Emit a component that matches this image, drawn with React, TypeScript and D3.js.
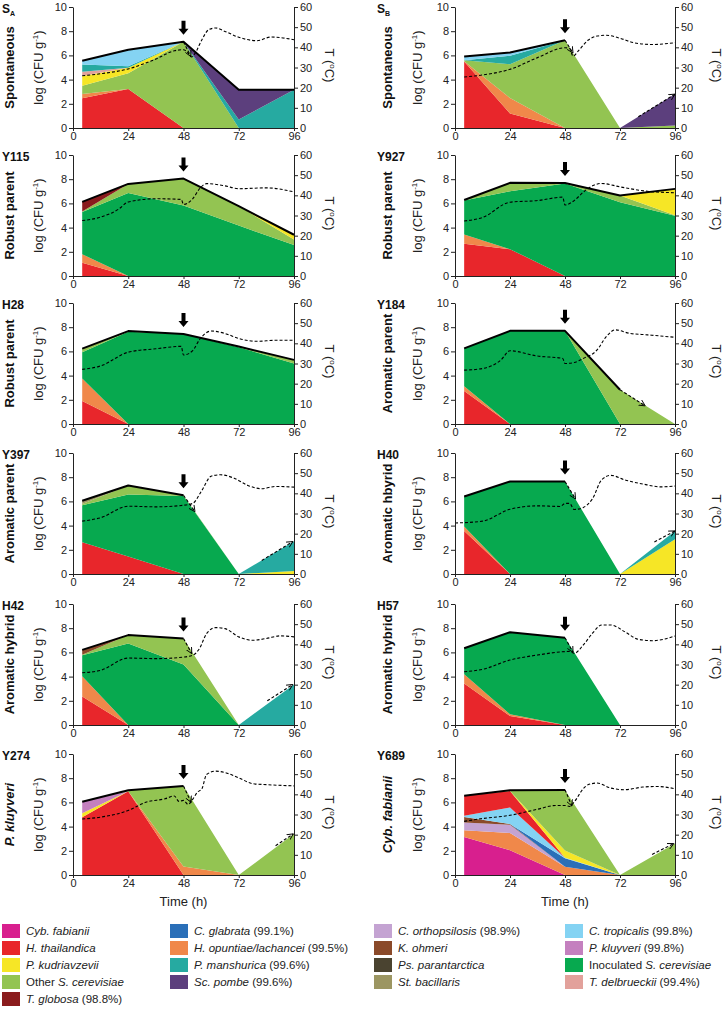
import React, { useEffect, useRef } from 'react';
import * as d3 from 'd3';

// ---------- shared data ----------
const hours = [4, 24, 48, 72, 96];
const xTicks = [0, 24, 48, 72, 96];
const logTicks = [0, 2, 4, 6, 8, 10];
const tempTicks = [0, 10, 20, 30, 40, 50, 60];

const speciesKeys = ['cyb', 'cgla', 'cort', 'ctro', 'htha', 'hopu', 'kohm', 'pklu', 'pkud', 'pman', 'pspa', 'inoc', 'other', 'scpo', 'stba', 'tdel', 'tglo'];
const speciesColors = ['#d81f8e', '#2a6fb8', '#c4a3d2', '#84d3f3', '#e8262b', '#f0884a', '#8a4a2a', '#c480bf', '#f6e626', '#26aaa1', '#4a4330', '#07a94f', '#93c452', '#5c3f7d', '#9c9662', '#e2a19b', '#8a1b1d'];
const legendPrefix = ['', '', '', '', '', '', '', '', '', '', '', 'Inoculated ', 'Other ', '', '', '', ''];
const legendItalic = ['Cyb. fabianii', 'C. glabrata', 'C. orthopsilosis', 'C. tropicalis', 'H. thailandica', 'H. opuntiae/lachancei', 'K. ohmeri', 'P. kluyveri', 'P. kudriavzevii', 'P. manshurica', 'Ps. parantarctica', 'S. cerevisiae', 'S. cerevisiae', 'Sc. pombe', 'St. bacillaris', 'T. delbrueckii', 'T. globosa'];
const legendSuffix = ['', ' (99.1%)', ' (98.9%)', ' (99.8%)', '', ' (99.5%)', '', ' (99.8%)', '', ' (99.6%)', '', '', '', ' (99.6%)', '', ' (99.4%)', ' (98.8%)'];
const legendOrder = ['cyb', 'cgla', 'cort', 'ctro', 'htha', 'hopu', 'kohm', 'pklu', 'pkud', 'pman', 'pspa', 'inoc', 'other', 'scpo', 'stba', 'tdel', 'tglo'];

// ---------- panel data (log CFU/g at 4, 24, 48, 72, 96 h; bottom -> top) ----------
const SA_counts: [string, number[]][] = [
  ['htha', [2.45, 3.22, 0, 0, 0]],
  ['hopu', [0.35, 0, 0, 0, 0]],
  ['other', [0.7, 1.3, 7.13, 0, 0]],
  ['pkud', [0.8, 0.46, 0, 0, 0]],
  ['tdel', [0.35, 0, 0, 0, 0]],
  ['pman', [0.6, 0.12, 0, 0.7, 3.17]],
  ['scpo', [0, 0, 0, 2.47, 0]],
  ['ctro', [0.3, 1.37, 0, 0, 0]],
];
const SB_counts: [string, number[]][] = [
  ['htha', [5.5, 1.2, 0, 0, 0]],
  ['hopu', [0.02, 1.27, 0, 0, 0]],
  ['other', [0.08, 2.8, 7.25, 0, 0.2]],
  ['pman', [0, 0.7, 0, 0, 0]],
  ['scpo', [0, 0, 0, 0, 2.6]],
  ['ctro', [0.3, 0.27, 0, 0, 0]],
];
const Y115_counts: [string, number[]][] = [
  ['htha', [1.1, 0, 0, 0, 0]],
  ['hopu', [0.7, 0, 0, 0, 0]],
  ['inoc', [3.48, 6.86, 5.83, 4.17, 2.56]],
  ['other', [0.05, 0.75, 2.22, 1.6, 0.45]],
  ['pkud', [0, 0, 0, 0, 0.4]],
  ['tglo', [0.8, 0, 0, 0, 0]],
];
const Y927_counts: [string, number[]][] = [
  ['htha', [2.67, 2.22, 0, 0, 0]],
  ['hopu', [0.76, 0, 0, 0, 0]],
  ['inoc', [2.8, 4.78, 7.64, 6.1, 4.97]],
  ['other', [0.05, 0.7, 0.05, 0.55, 0.05]],
  ['pkud', [0, 0, 0, 0, 2.18]],
];
const H28_counts: [string, number[]][] = [
  ['htha', [1.9, 0, 0, 0, 0]],
  ['hopu', [1.86, 0, 0, 0, 0]],
  ['inoc', [2.17, 7.63, 7.43, 6.35, 5.0]],
  ['other', [0.3, 0.05, 0, 0.05, 0.3]],
];
const Y184_counts: [string, number[]][] = [
  ['htha', [2.72, 0, 0, 0, 0]],
  ['hopu', [0.4, 0, 0, 0, 0]],
  ['inoc', [3.13, 7.7, 7.7, 0, 0]],
  ['other', [0, 0, 0, 2.83, 0]],
];
const Y397_counts: [string, number[]][] = [
  ['htha', [2.62, 1.45, 0, 0, 0]],
  ['pkud', [0, 0, 0, 0, 0.25]],
  ['inoc', [3.06, 5.13, 6.45, 0, 0]],
  ['pman', [0, 0, 0, 0, 2.45]],
  ['other', [0.1, 0.74, 0.05, 0, 0]],
  ['stba', [0.27, 0, 0, 0, 0]],
];
const H40_counts: [string, number[]][] = [
  ['htha', [3.56, 0, 0, 0, 0]],
  ['hopu', [0.37, 0, 0, 0, 0]],
  ['inoc', [2.48, 7.64, 7.64, 0, 0]],
  ['pkud', [0, 0, 0, 0, 2.88]],
  ['pman', [0, 0, 0, 0, 0.68]],
];
const H42_counts: [string, number[]][] = [
  ['htha', [2.35, 0, 0, 0, 0]],
  ['hopu', [1.67, 0, 0, 0, 0]],
  ['inoc', [1.74, 6.73, 5.0, 0, 0]],
  ['other', [0.05, 0.7, 2.15, 0, 0]],
  ['kohm', [0.4, 0, 0, 0, 0]],
  ['pman', [0, 0, 0, 0, 3.35]],
];
const H57_counts: [string, number[]][] = [
  ['htha', [3.44, 0.74, 0, 0, 0]],
  ['hopu', [0.75, 0.15, 0, 0, 0]],
  ['inoc', [2.15, 6.77, 7.22, 0, 0]],
];
const Y274_counts: [string, number[]][] = [
  ['htha', [4.78, 6.92, 0, 0, 0]],
  ['hopu', [0, 0, 0.7, 0, 0]],
  ['pkud', [0.32, 0, 0, 0, 0]],
  ['pklu', [0.95, 0, 0, 0, 0]],
  ['other', [0, 0.08, 6.65, 0, 3.4]],
];
const Y689_counts: [string, number[]][] = [
  ['cyb', [3.15, 2.05, 0, 0, 0]],
  ['hopu', [0.55, 1.43, 0.68, 0, 0]],
  ['cort', [0.63, 0.68, 0, 0, 0]],
  ['kohm', [0.47, 0.05, 0, 0, 0]],
  ['cgla', [0, 0, 0.7, 0, 0]],
  ['ctro', [0.1, 1.37, 0.05, 0, 0]],
  ['htha', [1.65, 1.37, 0, 0, 0]],
  ['pkud', [0, 0, 0.6, 0, 0]],
  ['other', [0, 0.05, 5.0, 0, 2.6]],
];

// temperature curves [hour, °C]
const SA_temp = [[4, 25.9], [12, 26.9], [24, 29.3], [36, 34.2], [44, 38.3], [48, 38.8], [50, 37.2], [51.5, 35.2], [53, 37], [56, 43.8], [59, 48.8], [62, 49.6], [66, 47.9], [72, 45], [80, 43.3], [86, 45.1], [96, 43.8]];
const SB_temp = [[4, 25.3], [12, 26.3], [24, 29.1], [36, 34.9], [48, 39.8], [50, 39.5], [51.5, 35.7], [54, 38.5], [58, 43.5], [62, 45.6], [66, 46], [72, 44.5], [78, 42.3], [86, 41.4], [96, 42.3]];
const Y115_temp = [[4, 27.5], [12, 29.2], [20, 33.3], [24, 36.7], [36, 38.3], [47, 38], [48, 35.5], [52, 38.3], [55, 43.3], [58, 45.8], [66, 44.7], [72, 43.3], [84, 43.7], [96, 41.7]];
const Y927_temp = [[4, 27.3], [12, 29], [24, 36.6], [36, 37.4], [47, 39.1], [48, 35.2], [52, 37.4], [56, 41.6], [60, 44.7], [64, 45.9], [72, 44.2], [84, 42], [96, 41.3]];
const H28_temp = [[4, 27.1], [12, 28.8], [24, 35.6], [36, 37.3], [47, 38.5], [48, 34.2], [52, 36.4], [55, 41.9], [60, 46.1], [66, 44.9], [72, 42.4], [80, 41], [88, 41.5], [96, 41.5]];
const Y184_temp = [[4, 26.7], [12, 27.5], [20, 31.7], [24, 36.3], [36, 33.7], [47, 32.5], [48, 30], [52, 30.5], [56, 32.5], [62, 36.7], [66, 43.3], [70, 46.7], [76, 45], [84, 44.2], [96, 43]];
const Y397_temp = [[4, 26.2], [12, 27.9], [24, 33.6], [36, 33.3], [48, 34.1], [52, 35], [56, 41.5], [60, 48.5], [64, 49.2], [70, 47.5], [76, 43.9], [82, 42.3], [88, 43.4], [96, 43.1]];
const H40_temp = [[0, 25.3], [12, 26.2], [24, 32.1], [36, 33.8], [46, 33.5], [48, 35], [50, 35], [52, 32], [56, 33], [60, 37.3], [64, 46.7], [68, 48.9], [74, 46.7], [82, 44.6], [90, 43.2], [96, 43.6]];
const H42_temp = [[4, 25.9], [12, 27.1], [24, 33.2], [36, 32.9], [48, 33.7], [52, 34.6], [55, 38], [58, 45.3], [62, 48.3], [66, 47.8], [72, 43.7], [78, 42], [84, 42.9], [90, 44.2], [96, 43.7]];
const H57_temp = [[4, 26.4], [12, 27.6], [24, 32.2], [36, 34.7], [48, 36.4], [50, 36.5], [52, 35.5], [56, 39.7], [60, 45.5], [64, 49.6], [68, 49.6], [74, 46.3], [80, 42.5], [86, 41.8], [96, 44.1]];
const Y274_temp = [[4, 27.8], [12, 28.7], [24, 32], [32, 36.2], [40, 37.8], [44, 39.2], [46, 36.5], [48, 37], [50, 35], [52, 37.5], [54, 41], [56, 42.8], [58, 49.8], [62, 51.5], [66, 50.8], [72, 48.2], [78, 45.3], [84, 44.8], [96, 44.2]];
const Y689_temp = [[4, 26.6], [12, 28], [24, 29.6], [36, 32.6], [44, 34.5], [48, 34.5], [50, 34], [52, 36.2], [56, 42.8], [58, 44.7], [62, 45.6], [68, 43.1], [74, 42.3], [82, 43.6], [88, 43.9], [96, 42.8]];

// dashed trend arrows [h1, log1, h2, log2]
const SA_arrows = [[48, 7.13, 51.2, 5.9]];
const SB_arrows = [[48, 7.25, 51.5, 6.2], [80, 0.93, 96, 2.8]];
const Y184_arrows = [[72, 2.83, 83, 1.5]];
const Y397_arrows = [[48, 6.5, 53, 5.15], [82, 1.12, 95.5, 2.68]];
const H40_arrows = [[48, 7.64, 52.6, 6.2], [87, 2.65, 96, 3.56]];
const H42_arrows = [[48, 7.15, 51.6, 5.9], [84.4, 2.0, 95.5, 3.35]];
const H57_arrows = [[48, 7.22, 51.5, 6.0]];
const Y274_arrows = [[48, 7.35, 51.3, 6.0], [88, 2.42, 95.7, 3.4]];
const Y689_arrows = [[48, 7.05, 51, 5.7], [86, 1.7, 95.5, 2.6]];

const panelNames = ['S', 'S', 'Y115', 'Y927', 'H28', 'Y184', 'Y397', 'H40', 'H42', 'H57', 'Y274', 'Y689'];
const panelSubs = ['A', 'B', '', '', '', '', '', '', '', '', '', ''];
const rowLabels = ['Spontaneous', 'Spontaneous', 'Robust parent', 'Robust parent', 'Robust parent', 'Aromatic parent', 'Aromatic parent', 'Aromatic hbyrid', 'Aromatic hybrid', 'Aromatic hybrid', 'P. kluyveri', 'Cyb. fabianii'];
const rowItalic = [false, false, false, false, false, false, false, false, false, false, true, true];
const solidEnds = [96, 48, 96, 96, 96, 72, 48, 48, 48, 48, 48, 48];
const panelCounts = [SA_counts, SB_counts, Y115_counts, Y927_counts, H28_counts, Y184_counts, Y397_counts, H40_counts, H42_counts, H57_counts, Y274_counts, Y689_counts];
const panelTemps = [SA_temp, SB_temp, Y115_temp, Y927_temp, H28_temp, Y184_temp, Y397_temp, H40_temp, H42_temp, H57_temp, Y274_temp, Y689_temp];
const panelArrows = [SA_arrows, SB_arrows, [], [], [], Y184_arrows, Y397_arrows, H40_arrows, H42_arrows, H57_arrows, Y274_arrows, Y689_arrows];

const FONT = '"Liberation Sans", Arial, sans-serif';
const rowTops = [7, 155, 303, 453, 604, 754];
const PH = 121;

function colorOf(k: string) {
  return speciesColors[speciesKeys.indexOf(k)];
}

export default function App() {
  const ref = useRef<SVGSVGElement>(null);
  useEffect(() => {
    const svg = d3.select(ref.current);
    svg.selectAll('*').remove();
    const defs = svg.append('defs');
    defs.append('marker').attr('id', 'ah').attr('viewBox', '0 0 8 8').attr('refX', 7).attr('refY', 4)
      .attr('markerWidth', 7).attr('markerHeight', 7).attr('markerUnits', 'userSpaceOnUse').attr('orient', 'auto')
      .append('path').attr('d', 'M0,0.5 L7,4 L0,7.5').attr('fill', 'none').attr('stroke', '#000').attr('stroke-width', 1);

    panelNames.forEach((name, i) => {
      const col = i % 2;
      const row = Math.floor(i / 2);
      const xa = col ? 455 : 73;
      const xb = col ? 675 : 294;
      const yTop = rowTops[row];
      const yBot = yTop + PH;
      const x = d3.scaleLinear().domain([0, 96]).range([xa, xb]);
      const y = d3.scaleLinear().domain([0, 10]).range([yBot, yTop]);
      const yT = d3.scaleLinear().domain([0, 60]).range([yBot, yTop]);
      const g = svg.append('g');

      const layers = panelCounts[i];
      const keys = layers.map((l) => l[0]);
      const table = hours.map((h, j) => {
        const o: any = { h };
        layers.forEach(([k, v]) => (o[k] = v[j]));
        return o;
      });
      const series = d3.stack<any>().keys(keys)(table);
      const area = d3.area<any>().x((d) => x(d.data.h)).y0((d) => y(d[0])).y1((d) => y(d[1]));
      g.selectAll('path.layer').data(series).join('path').attr('class', 'layer')
        .attr('d', area as any).attr('fill', (s: any) => colorOf(s.key));

      const totals = table.map((d) => ({ h: d.h, v: keys.reduce((a, k) => a + d[k], 0) }));
      const line = d3.line<any>().x((d) => x(d.h)).y((d) => y(d.v));
      g.append('path').attr('d', line(totals.filter((d) => d.h <= solidEnds[i])) as string)
        .attr('fill', 'none').attr('stroke', '#000').attr('stroke-width', 2).attr('stroke-linejoin', 'round');

      // temperature
      const tline = d3.line<any>().x((d) => x(d[0])).y((d) => yT(d[1])).curve(d3.curveMonotoneX);
      g.append('path').attr('d', tline(panelTemps[i]) as string).attr('fill', 'none')
        .attr('stroke', '#000').attr('stroke-width', 1.1).attr('stroke-dasharray', '3,2');

      // dashed trend arrows
      (panelArrows[i] as number[][]).forEach((a) => {
        g.append('line').attr('x1', x(a[0])).attr('y1', y(a[1])).attr('x2', x(a[2])).attr('y2', y(a[3]))
          .attr('stroke', '#000').attr('stroke-width', 1.1).attr('stroke-dasharray', '3,2').attr('marker-end', 'url(#ah)');
      });

      // bold arrow at 48 h
      const t48 = totals[2].v;
      const tipY = y(t48) - 7;
      const ax = x(48);
      const p = d3.path();
      p.moveTo(ax - 2, tipY - 14);
      p.lineTo(ax + 2, tipY - 14);
      p.lineTo(ax + 2, tipY - 6);
      p.lineTo(ax + 5, tipY - 6);
      p.lineTo(ax, tipY);
      p.lineTo(ax - 5, tipY - 6);
      p.lineTo(ax - 2, tipY - 6);
      p.closePath();
      g.append('path').attr('d', p.toString()).attr('fill', '#000');

      // axes
      const styleAxis = (sel: any) => {
        sel.selectAll('text').attr('font-family', FONT).attr('font-size', 11).attr('fill', '#222');
        sel.selectAll('line').attr('stroke', '#222');
        sel.select('.domain').attr('stroke', '#222');
      };
      g.append('g').attr('transform', `translate(${xa},0)`)
        .call(d3.axisLeft(y).tickValues(logTicks).tickSize(4).tickSizeOuter(0).tickPadding(2)).call(styleAxis);
      g.append('g').attr('transform', `translate(${xb},0)`)
        .call(d3.axisRight(yT).tickValues(tempTicks).tickSize(4).tickSizeOuter(0).tickPadding(2)).call(styleAxis);
      g.append('g').attr('transform', `translate(0,${yBot})`)
        .call(d3.axisBottom(x).tickValues(xTicks).tickSize(3).tickSizeOuter(0).tickPadding(1)).call(styleAxis);
      g.selectAll('.domain').attr('fill', 'none');

      // titles
      const tt = g.append('text').attr('x', col ? 377 : 2).attr('y', yTop + 6).attr('font-family', FONT)
        .attr('font-weight', 'bold').attr('font-size', 12).attr('fill', '#111');
      tt.append('tspan').text(name);
      if (panelSubs[i]) tt.append('tspan').attr('font-size', 7).attr('dy', 3).text(panelSubs[i]);

      const cy = (yTop + yBot) / 2;
      const rx = col ? 387 : 9;
      g.append('text').attr('transform', `translate(${rx},${cy}) rotate(-90)`).attr('text-anchor', 'middle')
        .attr('dy', '0.35em').attr('font-family', FONT).attr('font-weight', 'bold').attr('font-size', 13)
        .attr('font-style', rowItalic[i] ? 'italic' : 'normal').attr('fill', '#111').text(rowLabels[i]);

      const lx = col ? 417 : 38.5;
      const lt = g.append('text').attr('transform', `translate(${lx},${cy}) rotate(-90)`).attr('text-anchor', 'middle')
        .attr('dy', '0.35em').attr('font-family', FONT).attr('font-size', 13).attr('fill', '#222');
      lt.append('tspan').text('log (CFU g');
      lt.append('tspan').attr('font-size', 8).attr('dy', -5).text('-1');
      lt.append('tspan').attr('dy', 5).text(')');

      const tx = col ? 717 : 330;
      const tq = g.append('text').attr('transform', `translate(${tx},${cy - 2}) rotate(90)`).attr('text-anchor', 'middle')
        .attr('dy', '0.35em').attr('font-family', FONT).attr('font-size', 13).attr('fill', '#222');
      tq.append('tspan').text('T (');
      tq.append('tspan').attr('font-size', 8).attr('dy', -5).text('o');
      tq.append('tspan').attr('dy', 5).text('C)');

      if (row === 5) {
        g.append('text').attr('x', (xa + xb) / 2).attr('y', yBot + 31).attr('text-anchor', 'middle')
          .attr('font-family', FONT).attr('font-size', 13).attr('fill', '#222').text('Time (h)');
      }
    });

    // legend
    const colX = [2, 170, 374, 565];
    const rowY = [931, 948, 965, 982, 999];
    legendOrder.forEach((k, j) => {
      const c = j % 4;
      const r = Math.floor(j / 4);
      const idx = speciesKeys.indexOf(k);
      svg.append('rect').attr('x', colX[c]).attr('y', rowY[r] - 7).attr('width', 18).attr('height', 14).attr('fill', speciesColors[idx]);
      const t = svg.append('text').attr('x', colX[c] + 24).attr('y', rowY[r] + 4).attr('font-family', FONT)
        .attr('font-size', 11.5).attr('fill', '#222');
      if (legendPrefix[idx]) t.append('tspan').text(legendPrefix[idx]);
      t.append('tspan').attr('font-style', 'italic').text(legendItalic[idx]);
      if (legendSuffix[idx]) t.append('tspan').text(legendSuffix[idx]);
    });
  }, []);

  return (
    <svg ref={ref} width={723} height={1015}
      style={{ position: 'absolute', left: 0, top: 0, background: '#fff' }} />
  );
}
